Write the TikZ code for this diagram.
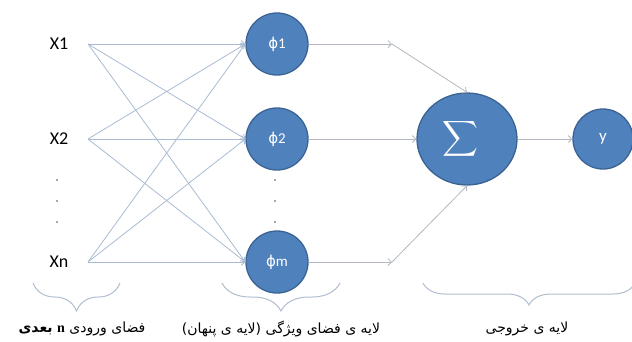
\documentclass[tikz,border=0pt]{standalone}
\usepackage{exscale}
\usepackage{fontspec}
\setmainfont{Carlito}
\newfontfamily\farsi[Script=Arabic]{DejaVu Sans}
\newfontfamily\greek{DejaVu Sans}
\newfontfamily\serif{Liberation Serif}
\TeXXeTstate=1
\usetikzlibrary{shapes.geometric}
\usetikzlibrary{arrows.meta}
\usetikzlibrary{decorations.pathreplacing}
\definecolor{unitblue}{HTML}{4F81BD}
\definecolor{unitedge}{HTML}{3A6393}
\definecolor{wirecol}{HTML}{A9BBD2}
\definecolor{wiregray}{HTML}{B3B8C0}
\definecolor{bracecol}{HTML}{B0BDCF}

\begin{document}
\begin{tikzpicture}[x=1pt, y=-1pt,
    unit/.style = {circle, fill=unitblue, draw=unitedge, line width=1.3pt,
                minimum size=#1, inner sep=0pt, text=white,
                font=\fontsize{15}{17}\selectfont},
    unit/.default = 62pt,  % diameter of the hidden units
    sumunit/.style = {ellipse, fill=unitblue, draw=unitedge, line width=1.3pt,
                minimum width=100pt, minimum height=92pt, inner sep=0pt, text=white},
    link/.style = {wirecol, line width=0.8pt, -{Straight Barb[length=3.5pt,width=7pt]}},
    outlink/.style = {wiregray, line width=0.8pt, -{Straight Barb[length=3.5pt,width=7pt]}},
    dotmark/.style = {circle, fill=black!70, minimum size=1.6pt, inner sep=0pt},
    bracket/.style = {bracecol, line width=1pt, decorate},
    caption/.style = {font=\fontsize{14}{16}\selectfont, inner sep=0pt}
                    ]
        \useasboundingbox (0,0) rectangle (632,341);
        % input layer
        \foreach \y/\v in {44/1, 139/2, 262/n}
            \node[font=\fontsize{18}{20}\selectfont] at (59,\y) (X\v) {X\v};
        \foreach \y/\v in {44/1, 139/2, 262/n}
            \coordinate (i\v) at (88,\y);
        % hidden layer
        \foreach \y/\v in {44/1, 139/2, 262/m}
            \node[unit] at (277,\y) (h\v) {{\greek ϕ}\v};
        \foreach \x/\n in {57/a, 275/b}
            \foreach \y/\k in {180/1, 201/2, 222/3}
                \node[dotmark] at (\x,\y) (d\n\k) {};
        \foreach \a in {1,2,n}
            \foreach \b in {1,2,m}
                \draw[link] (i\a) -- (h\b.west);
        % output layer
        \node[sumunit] at (467,139) (sum) {\makebox[50pt][l]{\fontsize{24}{24}\selectfont$\displaystyle\sum$}};
        \node[unit=60pt, font=\fontsize{17}{19}\selectfont] at (603,139) (out) {y};
        \coordinate (b1) at (392,44);
        \coordinate (bm) at (392,262);
        \draw[outlink] (h1.east) -- (b1);
        \draw[outlink] (b1) -- (sum.north);
        \draw[outlink] (h2.east) -- (sum.west);
        \draw[outlink] (hm.east) -- (bm);
        \draw[outlink] (bm) -- (sum.south);
        \draw[outlink] (sum.east) -- (out.west);
        % braces and captions
        \draw[bracket, decoration={brace, mirror, amplitude=28pt}] (33,283) -- (120,283);
        \draw[bracket, decoration={brace, mirror, amplitude=28pt}] (222,283) -- (340,283);
        \draw[bracket, decoration={brace, mirror, amplitude=22pt}] (423,283) -- (635,283);
        \node[caption] at (82,329) (cin) {\farsi\beginR فضای ورودی {\serif\bfseries n} {\bfseries بعدی}\endR};
        \node[caption] at (281,329) (chid) {\farsi\beginR لایه ی فضای ویژگی (لایه ی پنهان)\endR};
        \node[caption] at (527,329) (cout) {\farsi\beginR لایه ی خروجی\endR};
    \end{tikzpicture}
\end{document}
